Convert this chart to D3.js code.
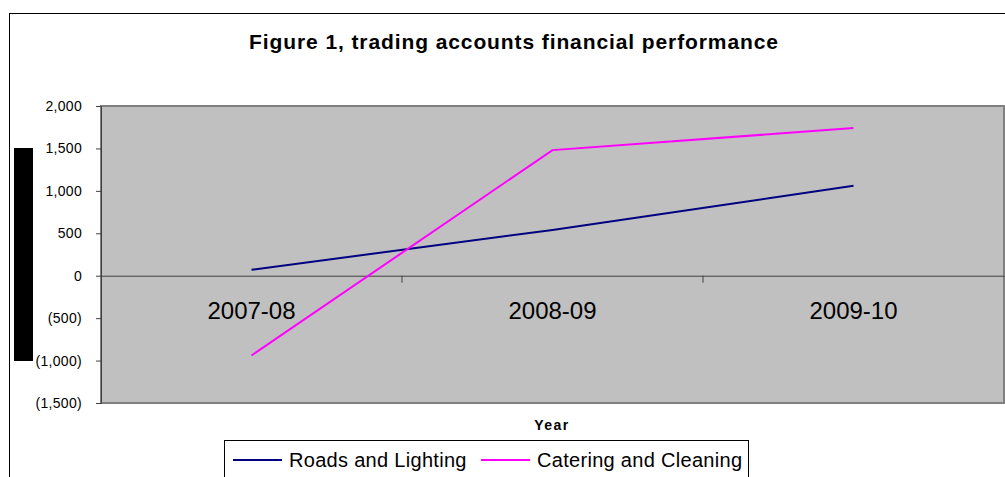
<!DOCTYPE html>
<html>
<head>
<meta charset="utf-8">
<script src="https://cdn.jsdelivr.net/npm/d3@7"></script>
<style>
  body { margin: 0; background: #fff; }
  text { font-family: "Liberation Sans", Arial, sans-serif; }
</style>
</head>
<body>
<div id="chart"></div>
<script>
const width = 1005, height = 477;

const years = ["2007-08", "2008-09", "2009-10"];
const roads = [70, 540, 1060];
const catering = [-940, 1480, 1740];
const yTicks = [-1500, -1000, -500, 0, 500, 1000, 1500, 2000];
const seriesNames = ["Roads and Lighting", "Catering and Cleaning"];
const seriesColors = ["#000080", "#ff00ff"];

const plot = { left: 101, right: 1004, top: 106, bottom: 403 };

const svg = d3.select("#chart").append("svg")
    .attr("width", width)
    .attr("height", height);

// outer chart frame
svg.append("rect")
    .attr("x", 9.5).attr("y", 13.5)
    .attr("width", 1100).attr("height", 600)
    .attr("fill", "#fff").attr("stroke", "#000").attr("stroke-width", 1);

svg.append("text")
    .attr("x", 514).attr("y", 49)
    .attr("text-anchor", "middle")
    .attr("font-size", 21).attr("font-weight", "bold")
    .attr("letter-spacing", 0.9)
    .text("Figure 1, trading accounts financial performance");

const x = d3.scaleBand()
    .domain(years)
    .range([plot.left, plot.right]);

const y = d3.scaleLinear()
    .domain([-1500, 2000])
    .range([plot.bottom, plot.top]);

// plot area
svg.append("rect")
    .attr("x", plot.left).attr("y", plot.top)
    .attr("width", plot.right - plot.left).attr("height", plot.bottom - plot.top)
    .attr("fill", "#c0c0c0")
    .attr("stroke", "#808080").attr("stroke-width", 2);

// y axis
const yAxis = svg.append("g")
    .attr("transform", "translate(" + plot.left + ",0)")
    .call(d3.axisLeft(y).tickValues(yTicks).tickSize(5).tickPadding(14)
        .tickFormat(d => d < 0 ? "(" + d3.format(",")(-d) + ")" : d3.format(",")(d)));
yAxis.select(".domain").attr("stroke", "#404040");
yAxis.selectAll(".tick line").attr("stroke", "#404040");
yAxis.selectAll("text").attr("font-size", 14).attr("fill", "#000")
    .attr("letter-spacing", 0.3)
    .style("font-family", "'Liberation Sans', Arial, sans-serif");

// x axis at zero
const xAxis = svg.append("g")
    .attr("transform", "translate(0," + y(0) + ")")
    .call(d3.axisBottom(x).tickSize(0).tickPadding(26));
xAxis.select(".domain").attr("stroke", "#404040");
xAxis.selectAll("text").attr("font-size", 24).attr("fill", "#000")
    .style("font-family", "'Liberation Sans', Arial, sans-serif");

svg.append("g").selectAll("line")
    .data(years.slice(1))
    .join("line")
    .attr("x1", d => x(d)).attr("x2", d => x(d))
    .attr("y1", y(0)).attr("y2", y(0) + 7)
    .attr("stroke", "#404040");

// lines
const line = d3.line()
    .x((d, i) => x(years[i]) + x.bandwidth() / 2)
    .y(d => y(d));

[roads, catering].forEach((s, i) => {
    svg.append("path")
        .datum(s)
        .attr("fill", "none")
        .attr("stroke", seriesColors[i])
        .attr("stroke-width", 2)
        .attr("d", line);
});

// redacted y title block
svg.append("rect")
    .attr("x", 14).attr("y", 148)
    .attr("width", 19).attr("height", 213)
    .attr("fill", "#000");

svg.append("text")
    .attr("x", 552).attr("y", 430)
    .attr("text-anchor", "middle")
    .attr("font-size", 14).attr("font-weight", "bold")
    .attr("letter-spacing", 1.5)
    .text("Year");

// legend
const legend = svg.append("g");
legend.append("rect")
    .attr("x", 224.5).attr("y", 440.5)
    .attr("width", 524).attr("height", 60)
    .attr("fill", "#fff").attr("stroke", "#000");

const legendX = [233, 481];
seriesNames.forEach((name, i) => {
    legend.append("line")
        .attr("x1", legendX[i]).attr("x2", legendX[i] + 49)
        .attr("y1", 460).attr("y2", 460)
        .attr("stroke", seriesColors[i]).attr("stroke-width", 2);
    legend.append("text")
        .attr("x", legendX[i] + 56).attr("y", 467)
        .attr("font-size", 20)
        .attr("letter-spacing", 0.3)
        .text(name);
});
</script>
</body>
</html>
